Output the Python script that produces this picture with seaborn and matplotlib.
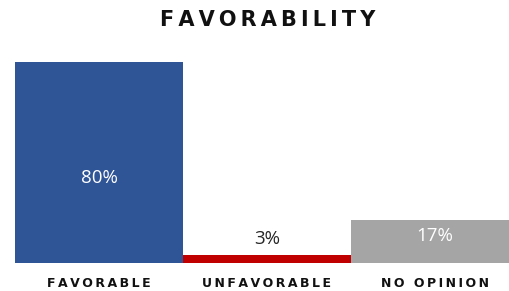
import matplotlib
matplotlib.use('Agg')  # no display in the sandbox
import matplotlib.pyplot as plt
import seaborn as sns

# chart data
categories = ["FAVORABLE", "UNFAVORABLE", "NO OPINION"]
values = [80, 3, 17]
colors = ["#2F5597", "#C00000", "#A5A5A5"]
title = "FAVORABILITY"


def spaced(text, gap="\u2009"):
    # matplotlib has no letter-spacing, so pad the letters with thin spaces
    return gap.join(text)


sns.set_theme(style="white")
plt.rcParams['font.family'] = ['DejaVu Sans']

fig = plt.figure(figsize=(5.1, 2.91), dpi=100)
# axes is a bit wider than the figure: the reference image is cropped on the right
ax = fig.add_axes([15 / 510, 28 / 291, 504 / 510, 201 / 291])

sns.barplot(x=categories, y=values, hue=categories, palette=colors,
            width=1.0, legend=False, saturation=1, linewidth=0, ax=ax)

ax.set_xlim(-0.5, 2.5)
ax.set_ylim(0, 80)
sns.despine(ax=ax, left=True, bottom=True)
ax.set_yticks([])
ax.set_xlabel("")
ax.set_ylabel("")

# value labels (Excel-style placement: not exactly centred)
label_font = dict(family="Open Sans", fontsize=13.5, ha="center", va="center")
ax.annotate(f"{values[0]}%", xy=(0, values[0] / 2), xytext=(0, -11.5),
            textcoords="offset points", color="white", **label_font)
ax.annotate(f"{values[1]}%", xy=(1, values[1]), xytext=(0, 11.5),
            textcoords="offset points", color="#262626", **label_font)
ax.annotate(f"{values[2]}%", xy=(2, values[2] / 2), xytext=(0, 4),
            textcoords="offset points", color="white", **label_font)

# letter-spaced category labels
ax.set_xticks(range(len(categories)))
ax.set_xticklabels([spaced(c) for c in categories],
                   fontsize=9, fontweight="bold", color="#111111")
ax.tick_params(axis="x", length=0, pad=10)

fig.text(267.5 / 510, 1 - 20 / 291, spaced(title), ha="center", va="center",
         fontsize=15, fontweight="bold", color="#111111")

plt.savefig("out.png", dpi=100)
